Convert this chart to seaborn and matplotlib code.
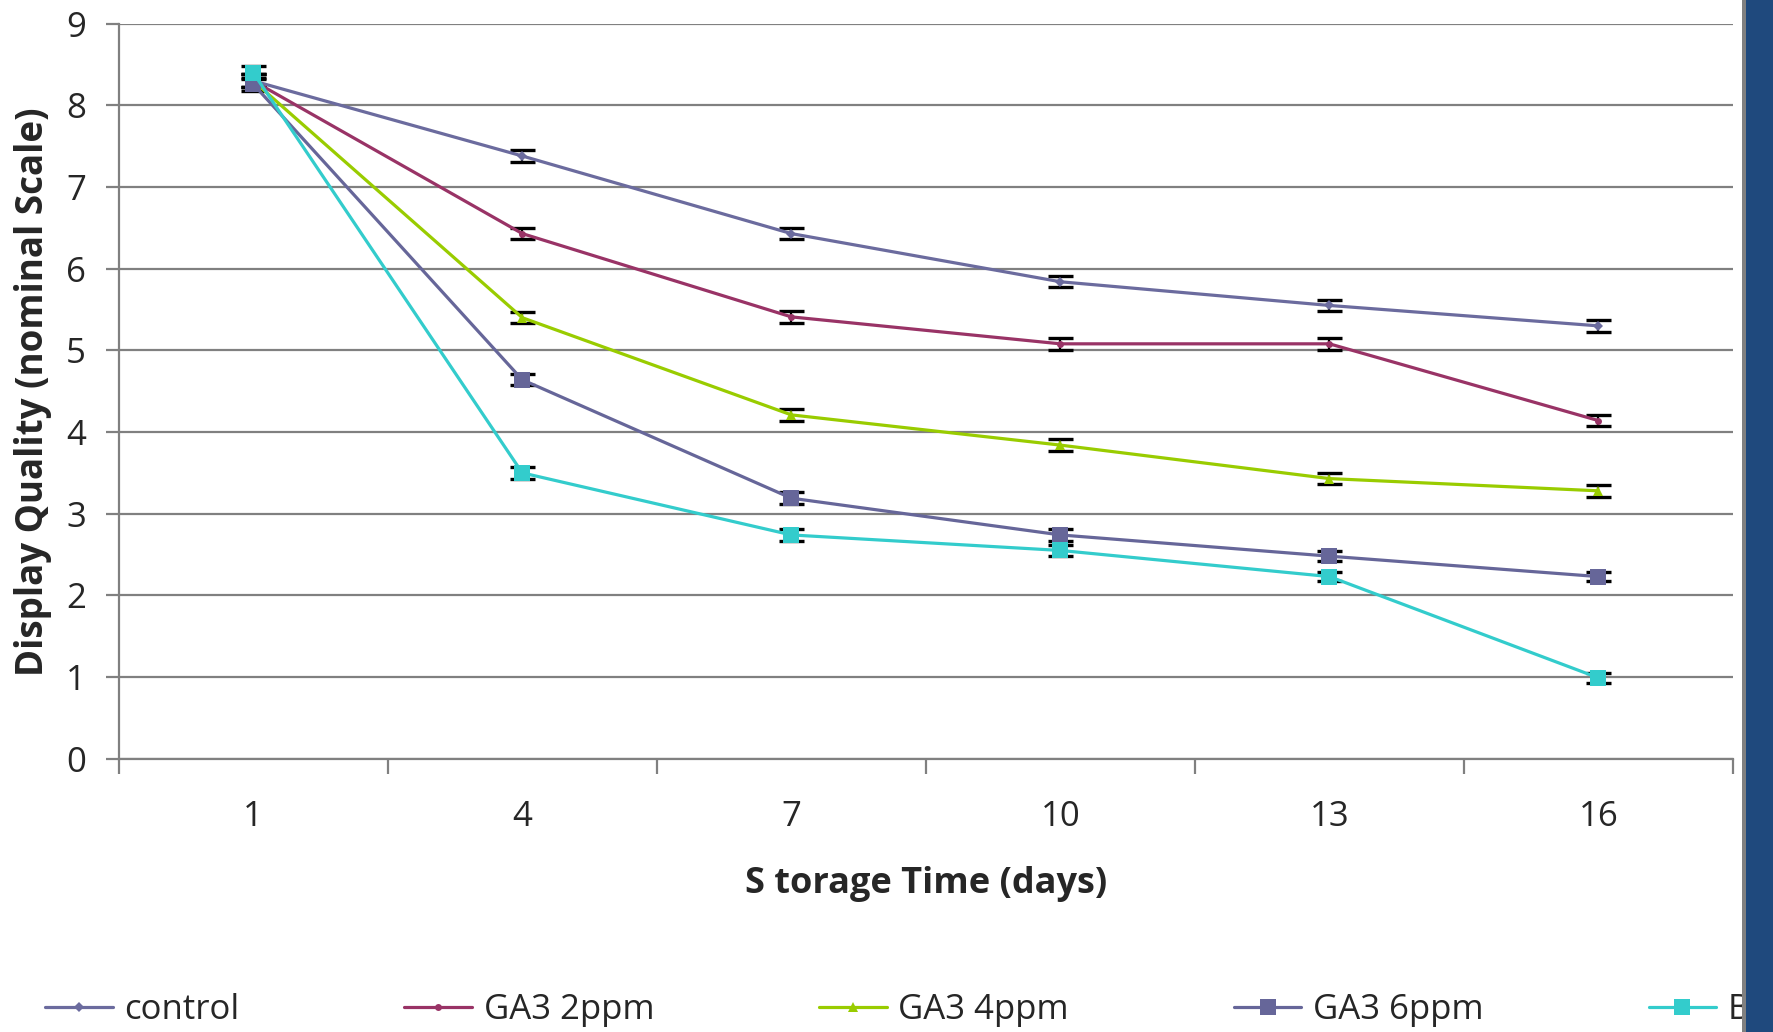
import matplotlib
matplotlib.use("Agg")
import matplotlib.pyplot as plt
import seaborn as sns
import pandas as pd
import numpy as np
from matplotlib.patches import Rectangle

# ---- data ----
days = [1, 4, 7, 10, 13, 16]
treatments = ["control", "GA3 2ppm", "GA3 4ppm", "GA3 6ppm", "B"]
control = [8.30, 7.38, 6.43, 5.84, 5.55, 5.30]
ga3_2ppm = [8.30, 6.43, 5.41, 5.08, 5.08, 4.14]
ga3_4ppm = [8.30, 5.40, 4.21, 3.84, 3.43, 3.28]
ga3_6ppm = [8.26, 4.64, 3.19, 2.74, 2.48, 2.23]
b_treat = [8.40, 3.50, 2.74, 2.55, 2.23, 0.99]
err_control = [0.08, 0.07, 0.07, 0.07, 0.07, 0.07]
err_2ppm = [0.08, 0.07, 0.07, 0.07, 0.07, 0.07]
err_4ppm = [0.08, 0.07, 0.07, 0.07, 0.07, 0.07]
err_6ppm = [0.08, 0.07, 0.07, 0.07, 0.06, 0.06]
err_b = [0.08, 0.07, 0.07, 0.07, 0.06, 0.06]

series = [control, ga3_2ppm, ga3_4ppm, ga3_6ppm, b_treat]
errors = [err_control, err_2ppm, err_4ppm, err_6ppm, err_b]
colors = ["#6B6B9E", "#993366", "#99CC00", "#666699", "#33CCCC"]
markers = ["D", "o", "^", "s", "s"]
msizes = [5, 5, 7, 11, 11]

rows = []
for name, vals, errs in zip(treatments, series, errors):
    for i, (d, v, e) in enumerate(zip(days, vals, errs)):
        rows.append({"treatment": name, "pos": i, "day": d, "value": v, "err": e})
df = pd.DataFrame(rows)

sns.set_theme(style="white")
plt.rcParams["font.family"] = ["Open Sans", "DejaVu Sans"]

FS = 25
W, H = 1773, 1032
fig = plt.figure(figsize=(W / 100, H / 100), dpi=100)
ax = fig.add_axes([118.7 / W, 1 - 758.7 / H, (1733 - 118.7) / W, (758.7 - 23.7) / H])

grid_c = "#808080"
for name, col, mk, ms in zip(treatments, colors, markers, msizes):
    sub = df[df.treatment == name]
    ax.errorbar(sub["pos"], sub["value"], yerr=sub["err"], fmt="none",
                ecolor="black", elinewidth=1.6, capsize=9, capthick=2.4,
                zorder=2.5, label="_nolegend_")
    sns.lineplot(data=sub, x="pos", y="value", color=col, marker=mk,
                 markersize=ms, markeredgewidth=0, linewidth=2.3,
                 label=name, ax=ax, zorder=3, legend=False)

ax.set_xlim(-0.5, 5.5)
ax.set_ylim(0, 9)
ax.set_yticks(range(0, 10))
ax.set_xticks(range(6))
ax.set_xticklabels([str(d) for d in days])
ax.set_xticks(np.arange(-0.5, 6.0, 1.0), minor=True)
ax.tick_params(axis="x", which="major", length=0, pad=30, labelsize=FS)
ax.tick_params(axis="x", which="minor", length=11, width=1.6, color=grid_c, direction="out", bottom=True)
ax.tick_params(axis="y", which="major", length=9.5, width=1.6, color=grid_c, pad=14,
               labelsize=FS, left=True, direction="out")
ax.grid(axis="y", color=grid_c, linewidth=1.6, zorder=0)
ax.grid(axis="x", visible=False)
ax.set_axisbelow(True)
for s in ["top", "right"]:
    ax.spines[s].set_visible(False)
for s in ["left", "bottom"]:
    ax.spines[s].set_color(grid_c)
    ax.spines[s].set_linewidth(1.6)

ax.set_xlabel("S torage Time (days)", fontsize=FS + 1, fontweight="bold")
ax.set_ylabel("Display Quality (nominal Scale)", fontsize=FS + 1.5, fontweight="bold")
ax.xaxis.set_label_coords(0.5, (758.7 - 884) / (758.7 - 23.7))
ax.yaxis.set_label_coords((52 - 118.7) / (1733 - 118.7), 0.5)
ax.xaxis.label.set_verticalalignment("center")

handles, labels = ax.get_legend_handles_labels()
fig.legend(handles, labels, loc="center left", bbox_to_anchor=(45 / W, 1 - 1010 / H),
           ncol=5, frameon=False, fontsize=FS, handlelength=1.95, handletextpad=0.33,
           columnspacing=4.75, borderpad=0, borderaxespad=0)

fig.add_artist(Rectangle((1742 / W, 0), 4 / W, 1, transform=fig.transFigure,
                         facecolor=grid_c, edgecolor="none", zorder=20))
fig.add_artist(Rectangle((1746 / W, 0), 27 / W, 1, transform=fig.transFigure,
                         facecolor="#1F497D", edgecolor="none", zorder=20))

fig.savefig("out.png", dpi=100)
